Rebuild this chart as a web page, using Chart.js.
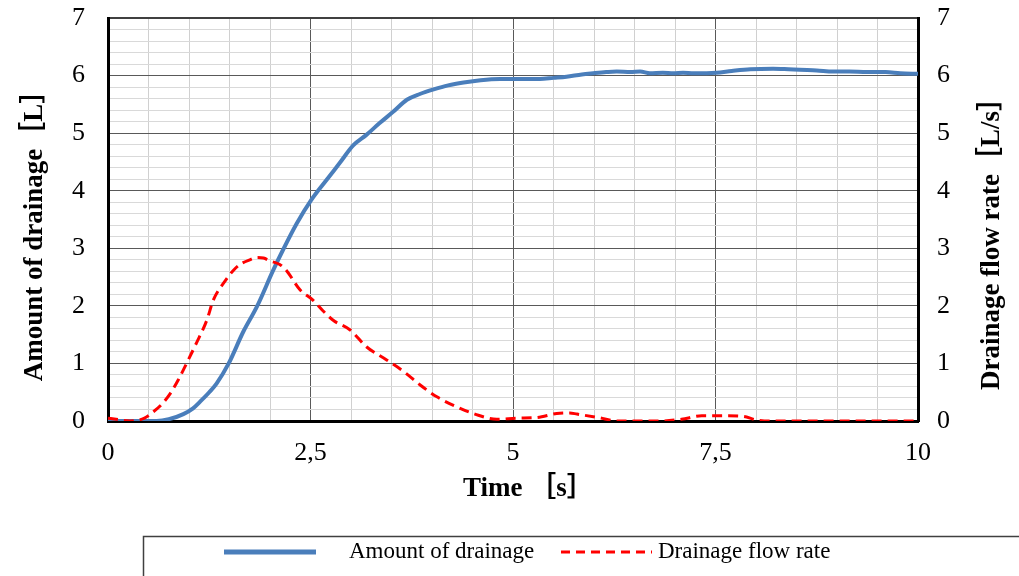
<!DOCTYPE html>
<html>
<head>
<meta charset="utf-8">
<script src="https://cdn.jsdelivr.net/npm/chart.js@4/dist/chart.umd.min.js"></script>
<style>
  html, body { margin: 0; padding: 0; background: #fff; overflow: hidden; }
  canvas { display: block; }
</style>
</head>
<body>
<canvas id="chart" width="1019" height="576"></canvas>
<script>
// Drainage test: cumulative amount [L] and flow rate [L/s] over time [s]

const timeAmount = [0, 0.3, 0.6, 0.75, 0.93, 1.05, 1.14, 1.25, 1.34, 1.49, 1.67, 1.84, 2.04, 2.16, 2.33, 2.51,
  2.70, 2.86, 3.03, 3.19, 3.35, 3.52, 3.69, 3.85, 4.02, 4.2, 4.39, 4.6, 4.84, 5.09, 5.33, 5.5, 5.66, 5.85,
  5.99, 6.15, 6.28, 6.45, 6.57, 6.69, 6.85, 6.98, 7.1, 7.23, 7.51, 7.7, 7.93, 8.21, 8.4, 8.54, 8.75, 8.95,
  9.15, 9.37, 9.6, 9.78, 10];
const amountDrainage = [0, 0, 0, 0.03, 0.12, 0.22, 0.34, 0.5, 0.65, 1.0, 1.55, 1.99, 2.62, 2.97, 3.43, 3.84,
  4.19, 4.48, 4.79, 4.97, 5.17, 5.37, 5.58, 5.68, 5.76, 5.83, 5.88, 5.92, 5.94, 5.94, 5.94, 5.96, 5.98, 6.02,
  6.04, 6.06, 6.07, 6.06, 6.07, 6.04, 6.05, 6.04, 6.05, 6.04, 6.05, 6.08, 6.11, 6.12, 6.11, 6.10, 6.09, 6.07,
  6.07, 6.06, 6.06, 6.04, 6.03];

const timeFlow = [0, 0.1, 0.27, 0.45, 0.56, 0.67, 0.77, 0.87, 0.97, 1.09, 1.22, 1.30, 1.44, 1.55, 1.63, 1.75,
  1.84, 1.92, 2.0, 2.12, 2.20, 2.37, 2.53, 2.65, 2.78, 2.99, 3.19, 3.44, 3.65, 3.85, 4.06, 4.30, 4.53, 4.80,
  5.05, 5.29, 5.54, 5.70, 5.79, 6.05, 6.30, 6.57, 6.82, 7.08, 7.33, 7.60, 7.84, 8.0, 8.2, 10];
const flowRate = [0.05, 0.03, 0, 0.05, 0.16, 0.3, 0.48, 0.72, 1.0, 1.35, 1.75, 2.10, 2.42, 2.62, 2.72, 2.80,
  2.84, 2.83, 2.78, 2.72, 2.62, 2.28, 2.10, 1.92, 1.75, 1.58, 1.29, 1.06, 0.86, 0.63, 0.42, 0.25, 0.12, 0.03,
  0.05, 0.06, 0.13, 0.14, 0.12, 0.06, 0, 0, 0, 0.03, 0.09, 0.09, 0.08, 0.02, 0, 0];

const seriesNames = ["Amount of drainage", "Drainage flow rate"];
const xTitle = "Time ［s］";
const yTitle = "Amount of drainage［L］";
const y2Title = "Drainage flow rate［L/s］";

const SERIF = "'Liberation Serif', 'Times New Roman', 'Noto Sans CJK JP', serif";
const BLUE = "#4a7ebb";
const RED = "#ff0000";

function pts(xs, ys) {
  return xs.map((x, i) => ({ x: x, y: ys[i] }));
}

function isMult(v, step) {
  const r = v / step;
  return Math.abs(r - Math.round(r)) < 1e-6;
}

// no extra room for half tick labels: the plot box is fixed
function noPad(s) {
  s.paddingTop = 0; s.paddingBottom = 0; s.paddingLeft = 0; s.paddingRight = 0;
}

// white background, axis titles (both vertical ones read bottom-to-top) and the boxed legend
const decorations = {
  id: "decorations",
  beforeDraw(chart) {
    const ctx = chart.ctx;
    ctx.save();
    ctx.fillStyle = "#fff";
    ctx.fillRect(0, 0, chart.width, chart.height);
    ctx.restore();
  },
  afterDraw(chart) {
    const ctx = chart.ctx;
    ctx.save();
    ctx.fillStyle = "#000";
    ctx.font = "bold 27px " + SERIF;
    ctx.textBaseline = "middle";
    ctx.textAlign = "center";
    ctx.save();
    ctx.translate(35, 229);
    ctx.rotate(-Math.PI / 2);
    ctx.fillText(yTitle, 0, 0);
    ctx.restore();
    ctx.save();
    ctx.translate(992, 237);
    ctx.rotate(-Math.PI / 2);
    ctx.fillText(y2Title, 0, 0);
    ctx.restore();
    ctx.textAlign = "left";
    ctx.fillText(xTitle, 463, 489);

    // legend
    const y = 552;
    ctx.strokeStyle = "#404040";
    ctx.lineWidth = 1.5;
    ctx.strokeRect(143.5, 536.5, 1000, 60);

    ctx.strokeStyle = BLUE;
    ctx.lineWidth = 5;
    ctx.beginPath();
    ctx.moveTo(224, y); ctx.lineTo(316, y);
    ctx.stroke();

    ctx.strokeStyle = RED;
    ctx.lineWidth = 3;
    ctx.setLineDash([9, 6]);
    ctx.beginPath();
    ctx.moveTo(561, y); ctx.lineTo(652, y);
    ctx.stroke();
    ctx.setLineDash([]);

    ctx.font = "23px " + SERIF;
    ctx.fillText(seriesNames[0], 349, y);
    ctx.fillText(seriesNames[1], 658, y);
    ctx.restore();
  }
};

new Chart(document.getElementById("chart"), {
  type: "line",
  data: {
    datasets: [
      {
        label: seriesNames[0],
        data: pts(timeAmount, amountDrainage),
        yAxisID: "y",
        borderColor: BLUE,
        borderWidth: 4,
        pointRadius: 0,
        cubicInterpolationMode: "monotone",
        order: 1
      },
      {
        label: seriesNames[1],
        data: pts(timeFlow, flowRate),
        yAxisID: "y2",
        borderColor: RED,
        borderWidth: 3,
        borderDash: [10, 6],
        pointRadius: 0,
        cubicInterpolationMode: "monotone",
        order: 0
      }
    ]
  },
  options: {
    responsive: false,
    animation: false,
    devicePixelRatio: 1,
    layout: { padding: { left: 19, right: 11, top: 18, bottom: 71 } },
    plugins: { legend: { display: false }, tooltip: { enabled: false } },
    scales: {
      x: {
        type: "linear",
        min: 0, max: 10,
        afterFit(s) { s.height = 84; noPad(s); },
        border: { color: "#000", width: 3 },
        grid: {
          drawTicks: false,
          color: c => isMult(c.tick.value, 2.5) ? "#595959" : "#d0d0d0",
          lineWidth: 1
        },
        ticks: {
          stepSize: 0.5,
          autoSkip: false,
          maxRotation: 0,
          padding: 17,
          color: "#000",
          font: { family: SERIF, size: 26 },
          callback: v => isMult(v, 2.5) ? String(v).replace(".", ",") : ""
        }
      },
      y: {
        position: "left",
        min: 0, max: 7,
        afterFit(s) { s.width = 89; noPad(s); },
        border: { color: "#000", width: 3 },
        grid: {
          drawTicks: false,
          color: c => c.tick.value >= 7 - 1e-6 ? "#404040" : (isMult(c.tick.value, 1) ? "#595959" : "#d9d9d9"),
          lineWidth: c => c.tick.value >= 7 - 1e-6 ? 2 : 1
        },
        ticks: {
          stepSize: 0.2,
          autoSkip: false,
          padding: 23,
          color: "#000",
          font: { family: SERIF, size: 26 },
          callback: v => isMult(v, 1) ? String(Math.round(v)) : ""
        }
      },
      y2: {
        position: "right",
        min: 0, max: 7,
        afterFit(s) { s.width = 90; noPad(s); },
        border: { color: "#000", width: 3 },
        grid: { display: false, drawTicks: false },
        ticks: {
          stepSize: 1,
          autoSkip: false,
          padding: 19,
          color: "#000",
          font: { family: SERIF, size: 26 }
        }
      }
    }
  },
  plugins: [decorations]
});
</script>
</body>
</html>
